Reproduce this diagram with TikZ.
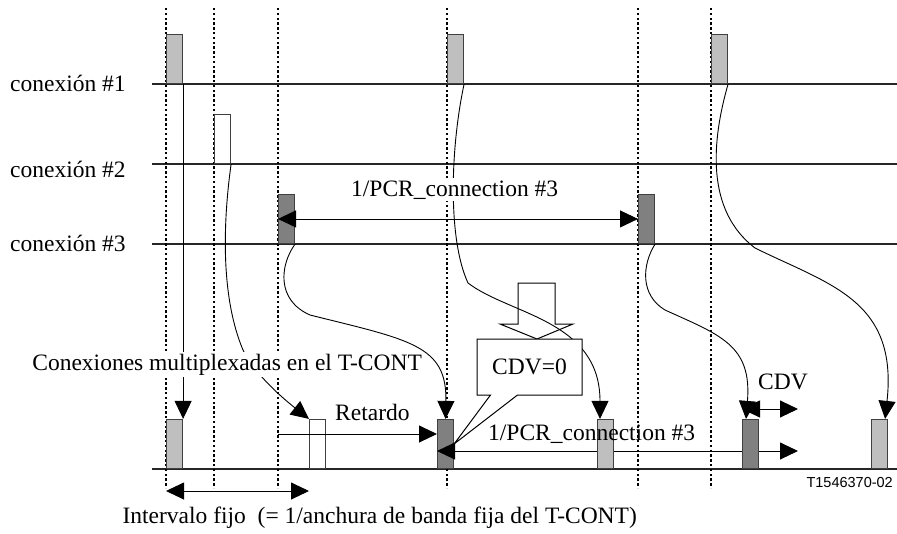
\documentclass[tikz,border=0pt]{standalone}
\usepackage{fontspec}
\setmainfont{Liberation Serif}
\newfontfamily\codefont{Liberation Sans}
\usetikzlibrary{arrows.meta}
\usetikzlibrary{shapes.callouts}

\begin{document}
\begin{tikzpicture}[x=1pt,y=-1pt,
  >={Triangle[length=18pt,width=17pt]},
  font=\fontsize{23.5}{27}\selectfont,
  cell/.style={draw=black!75,line width=1.1pt,minimum width=16pt,minimum height=49pt,inner sep=0pt,anchor=south west},
  lightCell/.style={cell,fill=black!25},
  darkCell/.style={cell,fill=black!50},
  emptyCell/.style={cell,fill=white},
  timeLine/.style={line width=1.3pt,black!85},
  slotLine/.style={line width=1.8pt,dash pattern=on 2.4pt off 2.4pt},
  flow/.style={line width=0.9pt,->},
  span/.style={line width=0.9pt,<->},
  txt/.style={inner sep=0pt}]
 			\useasboundingbox (0,0) rectangle (897,533);
 			\foreach \y in {84,164,244,469}
 				\draw[timeLine] (152,\y) -- (897,\y);
 			\foreach \x in {166,214,278,447,638,711}
 				\draw[slotLine] (\x,8) -- (\x,488);
 			% Cells per connection
 			\path (166,84) node(cellOneA)[lightCell] {};
 			\path (447,84) node(cellOneB)[lightCell] {};
 			\path (711,84) node(cellOneC)[lightCell] {};
 			\path (214,164) node(cellTwo)[emptyCell] {};
 			\path (278,244) node(cellThreeA)[darkCell] {};
 			\path (638,244) node(cellThreeB)[darkCell] {};
 			\path (166,469) node(muxOne)[lightCell] {};
 			\path (309,469) node(muxTwo)[emptyCell] {};
 			\path (437,469) node(muxThree)[darkCell] {};
 			%% Intervals
 			\coordinate (pcrEnd) at (798,451);
 			\coordinate (cdvEnd) at (798,409);
 			\coordinate (delayStart) at (278,434);
 			\coordinate (fixStart) at (166,491);
 			\draw[span] (cellThreeA.west) -- (cellThreeB.west);
 			\draw[span] (muxThree.west |- pcrEnd) -- (pcrEnd);
 			\draw[line width=0.9pt,->] (delayStart) -- (delayStart -| muxThree.west);
 			\draw[span] (fixStart) -- (fixStart -| muxTwo.west);
 			\path (597,469) node(muxFour)[lightCell] {};
 			\path (742,469) node(muxFive)[darkCell] {};
 			\path (871,469) node(muxSix)[lightCell] {};
 			\draw[span] (cdvEnd -| muxFive.west) -- (cdvEnd);
 			% Block arrow
 			\draw[line width=1pt] (518,283) -- (555,283) -- (555,324) -- (573,324)
 				-- (537,339) -- (500,324) -- (518,324) -- cycle;
 			%% Drawing Connecting Arrows
 			\draw[flow] (cellOneA.south east) -- (muxOne.north east);
 			\draw[flow] (cellTwo.south east) .. controls (222,230) and (222,300) .. (243,350)
 				.. controls (255,375) and (285,400) .. (muxTwo.north west);
 			\draw[flow] (cellThreeA.south east) .. controls (280,265) and (276,300) .. (310,315)
 				.. controls (410,340) and (447,345) .. (muxThree.north);
 			\draw[flow] (cellOneB.south east) .. controls (450,150) and (448,240) .. (468,283)
 				.. controls (510,315) and (600,320) .. ([xshift=3pt]muxFour.north west);
 			\draw[flow] (cellThreeB.south east) .. controls (642,265) and (640,295) .. (665,310)
 				.. controls (720,335) and (752,345) .. ([xshift=4pt]muxFive.north west);
 			\draw[flow] (cellOneC.south east) .. controls (712,140) and (705,210) .. (755,248)
 				.. controls (830,285) and (898,300) .. ([xshift=-3pt]muxSix.north east);
 			% Uses Callouts
 			\path (529.5,367) node(cdvZero)[rectangle callout,draw,fill=white,line width=1pt,
 				minimum width=105pt,minimum height=56pt,callout pointer width=27pt,
 				callout absolute pointer={(muxThree.east)}] {CDV=0};
 			% Labels
 			\path (10,91) node(labelOne)[txt,anchor=base west] {conexión \#1};
 			\path (10,177) node(labelTwo)[txt,anchor=base west] {conexión \#2};
 			\path (10,251) node(labelThree)[txt,anchor=base west] {conexión \#3};
 			\path (349,196) node(pcrTop)[anchor=base west,fill=white,inner sep=2pt] {1/PCR\_connection \#3};
 			\path (424,370) node(muxLabel)[anchor=base east,fill=white,inner sep=2pt] {Conexiones multiplexadas en el T-CONT};
 			\path (335,420) node(delayLabel)[txt,anchor=base west] {Retardo};
 			\path (488,440) node(pcrBottom)[txt,anchor=base west] {1/PCR\_connection \#3};
 			\path (758,389) node(cdvLabel)[txt,anchor=base west] {CDV};
 			\path (637,523) node(fixLabel)[txt,anchor=base east] {Intervalo fijo\ \ (= 1/anchura de banda fija del T-CONT)};
 			\path (893,487) node(figCode)[txt,anchor=base east,font=\codefont\fontsize{14.5}{16}\selectfont] {T1546370-02};
 		\end{tikzpicture}
\end{document}
